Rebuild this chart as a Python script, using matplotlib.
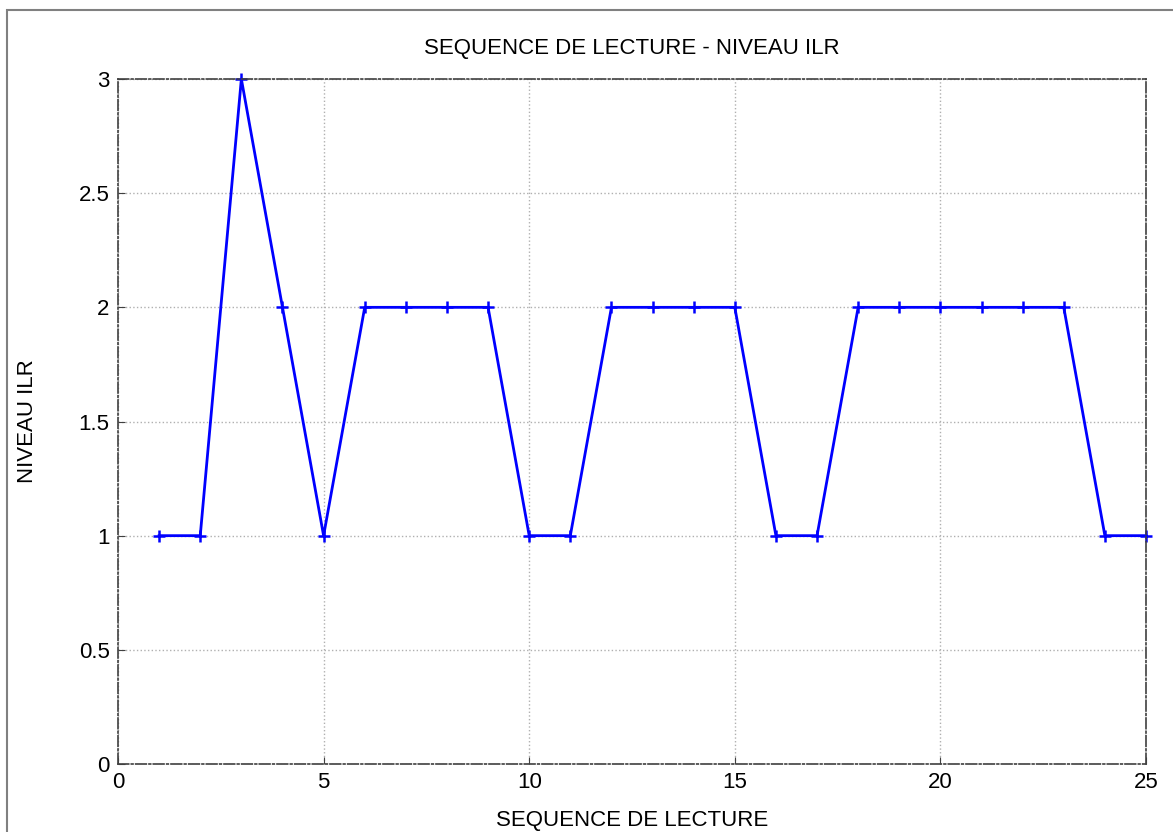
import matplotlib.pyplot as plt
from matplotlib.patches import Rectangle

# Reading sequence data
sequence = list(range(1, 26))
ilr_level = [1, 1, 3, 2, 1, 2, 2, 2, 2, 1, 1, 2, 2, 2, 2, 1, 1, 2, 2, 2, 2, 2, 2, 1, 1]
x_ticks = [0, 5, 10, 15, 20, 25]
y_ticks = [0, 0.5, 1, 1.5, 2, 2.5, 3]
y_tick_labels = ['0', '0.5', '1', '1.5', '2', '2.5', '3']

plt.rcParams['font.family'] = ['Liberation Sans', 'DejaVu Sans']

fig = plt.figure(figsize=(11.73, 8.32), dpi=100)
ax = fig.add_axes([118 / 1173, 68 / 832, 1028 / 1173, 685 / 832])

# Outer grey frame (clipped at right and bottom)
fig.patches.append(Rectangle((7 / 1173, -0.1), 1.2, 1.1 - 10 / 832,
                             transform=fig.transFigure, fill=False,
                             edgecolor='#808080', linewidth=1.5))

ax.plot(sequence, ilr_level, color='blue', linewidth=2, marker='+',
        markersize=8, markeredgewidth=1.8, clip_on=False)

ax.set_xlim(0, 25)
ax.set_ylim(0, 3)
ax.set_xticks(x_ticks)
ax.set_yticks(y_ticks)
ax.set_yticklabels(y_tick_labels)
ax.grid(True, color='#b0b0b0', linestyle=':', linewidth=1)
ax.tick_params(direction='in', length=5, labelsize=16, color='#404040', pad=6)
for s in ax.spines.values():
    s.set_linestyle('-.')
    s.set_color('#404040')
    s.set_linewidth(1.2)

ax.set_title('SEQUENCE DE LECTURE - NIVEAU ILR', fontsize=16, pad=18)
ax.set_xlabel('SEQUENCE DE LECTURE', fontsize=16, labelpad=12)
ax.set_ylabel('NIVEAU ILR', fontsize=16, labelpad=29)

fig.savefig('out.png', dpi=100)
